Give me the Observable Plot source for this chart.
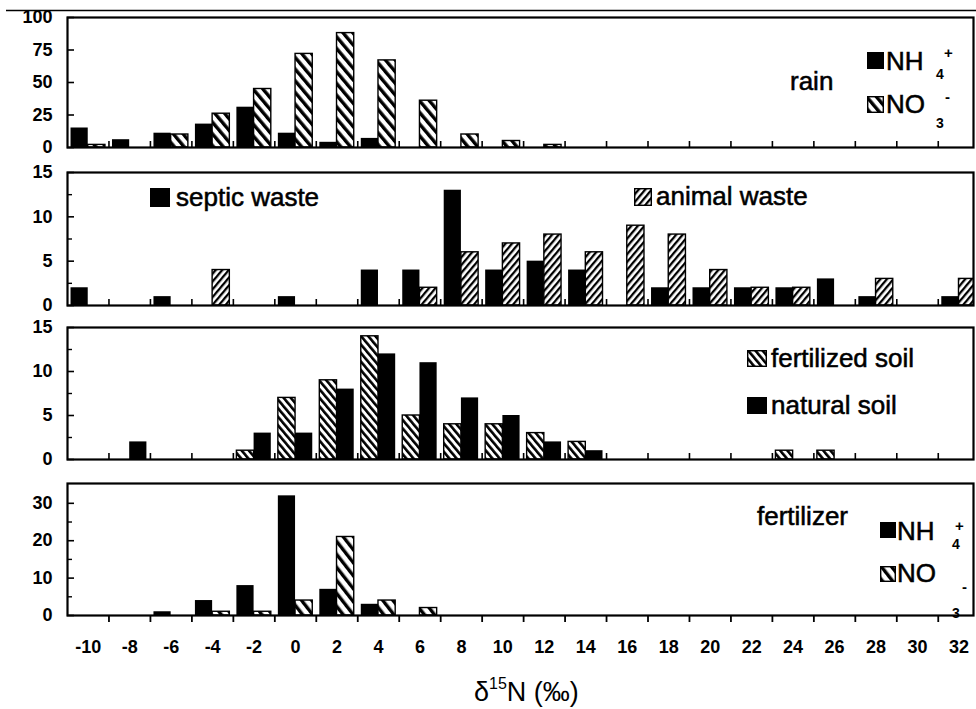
<!DOCTYPE html>
<html>
<head>
<meta charset="utf-8">
<script src="https://cdn.jsdelivr.net/npm/d3@7"></script>
<script src="https://cdn.jsdelivr.net/npm/@observablehq/plot@0.6"></script>
<style>
  html, body { margin: 0; padding: 0; background: white; }
  #wrap { position: relative; width: 976px; height: 709px; overflow: hidden; background: white;
          font-family: "Liberation Sans", Arial, sans-serif; }
  .panel { position: absolute; left: 0; }
  #overlay { position: absolute; left: 0; top: 0; pointer-events: none; }
  #overlay .lg { stroke: black; stroke-width: 0.55px; }
</style>
</head>
<body>
<svg width="0" height="0" style="position:absolute">
  <defs>
    <pattern id="hRain" patternUnits="userSpaceOnUse" width="7.5" height="7.5" patternTransform="rotate(-40)">
      <rect width="7.5" height="7.5" fill="white"/><rect width="3.4" height="7.5" fill="black"/>
    </pattern>
    <pattern id="hAnimal" patternUnits="userSpaceOnUse" width="5" height="5" patternTransform="rotate(40)">
      <rect width="5" height="5" fill="white"/><rect width="2.3" height="5" fill="black"/>
    </pattern>
    <pattern id="hSoil" patternUnits="userSpaceOnUse" width="5.5" height="5.5" patternTransform="rotate(-40)">
      <rect width="5.5" height="5.5" fill="white"/><rect width="2.6" height="5.5" fill="black"/>
    </pattern>
    <pattern id="hFert" patternUnits="userSpaceOnUse" width="8" height="8" patternTransform="rotate(-38)">
      <rect width="8" height="8" fill="white"/><rect width="3.4" height="8" fill="black"/>
    </pattern>
  </defs>
</svg>
<div id="wrap"></div>
<script>
// ---------- data ----------
const bins = [-10, -8, -6, -4, -2, 0, 2, 4, 6, 8, 10, 12, 14, 16, 18, 20, 22, 24, 26, 28, 30, 32];

// rain
const rainNH4 = [15, 6, 11, 18, 31, 11, 4, 7, 0, 0, 0, 0, 0, 0, 0, 0, 0, 0, 0, 0, 0, 0];
const rainNO3 = [2, 0, 10, 26, 45, 72, 88, 67, 36, 10, 5, 2, 0, 0, 0, 0, 0, 0, 0, 0, 0, 0];

// wastes
const septicWaste = [2, 0, 1, 0, 0, 1, 0, 4, 4, 13, 4, 5, 4, 0, 2, 2, 2, 2, 3, 1, 0, 1];
const animalWaste = [0, 0, 0, 4, 0, 0, 0, 0, 2, 6, 7, 8, 6, 9, 8, 4, 2, 2, 0, 3, 0, 3];

// soils
const fertilizedSoil = [0, 0, 0, 0, 1, 7, 9, 14, 5, 4, 4, 3, 2, 0, 0, 0, 0, 1, 1, 0, 0, 0];
const naturalSoil    = [0, 2, 0, 0, 3, 3, 8, 12, 11, 7, 5, 2, 1, 0, 0, 0, 0, 0, 0, 0, 0, 0];

// fertilizer
const fertNH4 = [0, 0, 1, 4, 8, 32, 7, 3, 0, 0, 0, 0, 0, 0, 0, 0, 0, 0, 0, 0, 0, 0];
const fertNO3 = [0, 0, 0, 1, 1, 4, 21, 4, 2, 0, 0, 0, 0, 0, 0, 0, 0, 0, 0, 0, 0, 0];

// ticks
const xTickLabels = [-10, -8, -6, -4, -2, 0, 2, 4, 6, 8, 10, 12, 14, 16, 18, 20, 22, 24, 26, 28, 30, 32];
const xBinEdges = [-9, -7, -5, -3, -1, 1, 3, 5, 7, 9, 11, 13, 15, 17, 19, 21, 23, 25, 27, 29, 31];
const rainYTicks = [0, 25, 50, 75, 100];
const wasteYTicks = [0, 5, 10, 15];
const wasteYMinor = [2.5, 7.5, 12.5];
const soilYTicks = [0, 5, 10, 15];
const soilYMinor = [2.5, 7.5, 12.5];
const fertYTicks = [0, 10, 20, 30];
const fertYMinor = [5, 15, 25];

// ---------- drawing ----------
const BW = 0.83; // bar width in bin units (half bin = 1)
const wrap = document.getElementById("wrap");

function panel({top, height, marginTop, marginBottom, ymax, majors, minors, left, right, bottomAxis}) {
  const rows = (vals) => bins.map((b, i) => ({bin: b, v: vals[i]})).filter(d => d.v > 0);
  const marks = [
    Plot.rect(rows(left.values), {
      x1: d => d.bin - BW, x2: d => d.bin, y1: 0, y2: "v",
      fill: left.fill, stroke: left.stroke, strokeWidth: 1.4, clip: true
    }),
    Plot.rect(rows(right.values), {
      x1: d => d.bin, x2: d => d.bin + BW, y1: 0, y2: "v",
      fill: right.fill, stroke: right.stroke, strokeWidth: 1.4, clip: true
    }),
    Plot.frame({stroke: "black", strokeWidth: 2.2}),
    Plot.axisY(majors, {tickSize: 0, tickPadding: 15, label: null, tickFormat: d => String(d),
      fontSize: 18, fontWeight: "bold"}),
    Plot.axisY(majors, {tickSize: 7, dx: 7, strokeWidth: 1.6, label: null, tickFormat: () => ""}),
  ];
  if (minors) marks.push(Plot.axisY(minors, {tickSize: 5, dx: 5, strokeWidth: 1.4, label: null, tickFormat: () => ""}));
  if (bottomAxis) {
    marks.push(Plot.axisX(xBinEdges, {tickSize: 7, strokeWidth: 1.8, label: null, tickFormat: () => ""}));
    marks.push(Plot.axisX(xTickLabels, {tickSize: 0, tickPadding: 25, label: null, tickFormat: d => String(d),
      fontSize: 18, fontWeight: "bold"}));
  } else {
    marks.push(Plot.axisX(xBinEdges, {tickSize: 6, dy: -6, strokeWidth: 1.6, label: null, tickFormat: () => ""}));
  }
  const chart = Plot.plot({
    width: 976, height, marginLeft: 67, marginRight: 3, marginTop, marginBottom,
    x: {domain: [-11, 32.7]},
    y: {domain: [0, ymax]},
    style: {fontFamily: "Liberation Sans, Arial, sans-serif", fontSize: "18px", color: "black",
            background: "transparent", overflow: "visible"},
    marks
  });
  chart.classList.add("panel");
  chart.style.top = top + "px";
  wrap.appendChild(chart);
}

panel({top: 0, height: 152, marginTop: 17, marginBottom: 5, ymax: 100, majors: rainYTicks,
  left: {values: rainNH4, fill: "black", stroke: "none"},
  right: {values: rainNO3, fill: "url(#hRain)", stroke: "black"}});

panel({top: 152, height: 158, marginTop: 20, marginBottom: 5, ymax: 15, majors: wasteYTicks, minors: wasteYMinor,
  left: {values: septicWaste, fill: "black", stroke: "none"},
  right: {values: animalWaste, fill: "url(#hAnimal)", stroke: "black"}});

panel({top: 310, height: 154, marginTop: 17, marginBottom: 5, ymax: 15, majors: soilYTicks, minors: soilYMinor,
  left: {values: fertilizedSoil, fill: "url(#hSoil)", stroke: "black"},
  right: {values: naturalSoil, fill: "black", stroke: "none"}});

panel({top: 464, height: 196, marginTop: 19, marginBottom: 45, ymax: 35.3, majors: fertYTicks, minors: fertYMinor,
  left: {values: fertNH4, fill: "black", stroke: "none"},
  right: {values: fertNO3, fill: "url(#hFert)", stroke: "black"}, bottomAxis: true});

// ---------- legends, panel labels, axis title ----------
const NS = "http://www.w3.org/2000/svg";
const ov = document.createElementNS(NS, "svg");
ov.setAttribute("id", "overlay");
ov.setAttribute("width", 976);
ov.setAttribute("height", 709);
ov.setAttribute("font-family", "Liberation Sans, Arial, sans-serif");
ov.innerHTML = `
  <line x1="6" x2="976" y1="10.5" y2="10.5" stroke="black" stroke-width="1.3"/>

  <text class="lg" x="790" y="90" font-size="26">rain</text>
  <rect x="867" y="52" width="17" height="17" fill="black"/>
  <text class="lg" x="886" y="70" font-size="26">NH</text>
  <text x="936" y="79" font-size="14" font-weight="bold">4</text>
  <text x="944" y="58" font-size="15" font-weight="bold">+</text>
  <rect x="867.7" y="96.7" width="15.6" height="15.6" fill="url(#hRain)" stroke="black" stroke-width="1.4"/>
  <text class="lg" x="886" y="113" font-size="26">NO</text>
  <text x="936" y="128" font-size="14" font-weight="bold">3</text>
  <text x="945" y="102" font-size="15" font-weight="bold">-</text>

  <rect x="150" y="188" width="20" height="19" fill="black"/>
  <text class="lg" x="176" y="206" font-size="26">septic waste</text>
  <rect x="634.7" y="188.7" width="16.6" height="16.6" fill="url(#hAnimal)" stroke="black" stroke-width="1.4"/>
  <text class="lg" x="656" y="205" font-size="26">animal waste</text>

  <rect x="747.7" y="350.7" width="18.6" height="15.6" fill="url(#hSoil)" stroke="black" stroke-width="1.4"/>
  <text class="lg" x="771" y="367" font-size="26">fertilized soil</text>
  <rect x="747" y="397" width="20" height="17" fill="black"/>
  <text class="lg" x="771" y="414" font-size="26">natural soil</text>

  <text class="lg" x="757" y="525" font-size="26">fertilizer</text>
  <rect x="880" y="522" width="16" height="16" fill="black"/>
  <text class="lg" x="897" y="540" font-size="26">NH</text>
  <text x="952" y="549" font-size="14" font-weight="bold">4</text>
  <text x="955" y="531" font-size="15" font-weight="bold">+</text>
  <rect x="880.7" y="566.7" width="14.6" height="14.6" fill="url(#hFert)" stroke="black" stroke-width="1.4"/>
  <text class="lg" x="897" y="582" font-size="26">NO</text>
  <text x="952" y="618" font-size="14" font-weight="bold">3</text>
  <text x="962" y="592" font-size="15" font-weight="bold">-</text>

  <text x="474" y="701" font-size="27">δ<tspan font-size="16" dy="-12">15</tspan><tspan dy="12">N (‰)</tspan></text>
`;
wrap.appendChild(ov);
</script>
</body>
</html>
